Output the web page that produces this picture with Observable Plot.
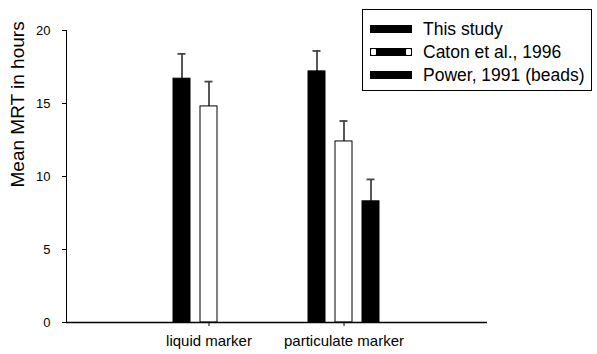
<!DOCTYPE html>
<html>
<head>
<meta charset="utf-8">
<script src="https://cdn.jsdelivr.net/npm/d3@7"></script>
<script src="https://cdn.jsdelivr.net/npm/@observablehq/plot@0.6"></script>
<style>
  body { margin: 0; background: #fff; font-family: "Liberation Sans", Arial, sans-serif; }
  #wrap { position: relative; width: 597px; height: 354px; }
  #legend { position: absolute; left: 362px; top: 9px; width: 228px; height: 80px;
    border: 1px solid #000; background: #fff; }
  .row { position: absolute; left: 7px; height: 20px; display: flex; align-items: center; }
  .sw { width: 42px; height: 8px; background: #000; position: relative; margin-right: 11px; }
  .sw .nub { position: absolute; top: 1px; width: 5px; height: 6px; background: #fff; border-radius: 1px; }
  .lab { font-size: 17.5px; color: #000; white-space: nowrap; }
</style>
</head>
<body>
<div id="wrap"></div>
<script>
const groups = ["liquid marker", "particulate marker"];
const series = ["This study", "Caton et al., 1996", "Power, 1991 (beads)"];
// mean values [group][series]
const means = [
  [16.7, 14.8, null],
  [17.2, 12.4, 8.3]
];
// upper end of error bar
const uppers = [
  [18.4, 16.5, null],
  [18.6, 13.8, 9.8]
];
const fills = ["#000", "#fff", "#000"];
const yTicks = [0, 5, 10, 15, 20];

const rows = [];
groups.forEach((g, gi) => series.forEach((s, si) => {
  rows.push({group: g, series: s, key: g + "|" + s, mean: means[gi][si], upper: uppers[gi][si], fill: fills[si]});
}));
const keys = [
  ...series.map(s => groups[0] + "|" + s),
  "gap1", "gap2",
  ...series.map(s => groups[1] + "|" + s)
];
const present = rows.filter(d => d.mean != null);

const plot = Plot.plot({
  width: 597,
  height: 354,
  marginLeft: 66,
  marginRight: 110,
  marginTop: 30,
  marginBottom: 32,
  style: {fontFamily: "Liberation Sans, Arial, sans-serif", fontSize: "13px", color: "#000", background: "#fff"},
  x: {domain: keys, range: [170, 382], paddingInner: 0.36, paddingOuter: 0, align: 0.5},
  y: {domain: [0, 20], ticks: yTicks, tickSize: 4, tickPadding: 12, line: true, label: null},
  marks: [
    Plot.ruleX(present, {x: "key", y1: "mean", y2: "upper", stroke: "#444", strokeWidth: 1.8}),
    Plot.tickY(present, {x: "key", y: "upper", stroke: "#444", strokeWidth: 1.8, insetLeft: 4.5, insetRight: 4.5}),
    Plot.barY(present, {x: "key", y: "mean", fill: "fill", stroke: "#000", strokeWidth: 1}),
    Plot.ruleY([0], {stroke: "#000", strokeWidth: 1.5}),
    Plot.axisX({ticks: series.slice(1, 2).flatMap(s => groups.map(g => g + "|" + s)),
      tickFormat: k => k.split("|")[0], tickSize: 4, tickPadding: 9, fontSize: 15, label: null}),
    Plot.text(["Mean MRT in hours"], {frameAnchor: "left", rotate: -90, dx: -49, dy: 11, fontSize: 19, fill: "#000"})
  ]
});
const wrap = document.getElementById("wrap");
wrap.appendChild(plot);

const legend = document.createElement("div");
legend.id = "legend";
series.forEach((s, i) => {
  const r = document.createElement("div");
  r.className = "row";
  r.style.top = (9 + i * 23) + "px";
  const sw = document.createElement("div");
  sw.className = "sw";
  if (i === 1) {
    sw.innerHTML = '<div class="nub" style="left:1px"></div><div class="nub" style="right:1px"></div>';
  }
  const l = document.createElement("span");
  l.className = "lab";
  l.textContent = s;
  r.appendChild(sw); r.appendChild(l);
  legend.appendChild(r);
});
wrap.appendChild(legend);
</script>
</body>
</html>
